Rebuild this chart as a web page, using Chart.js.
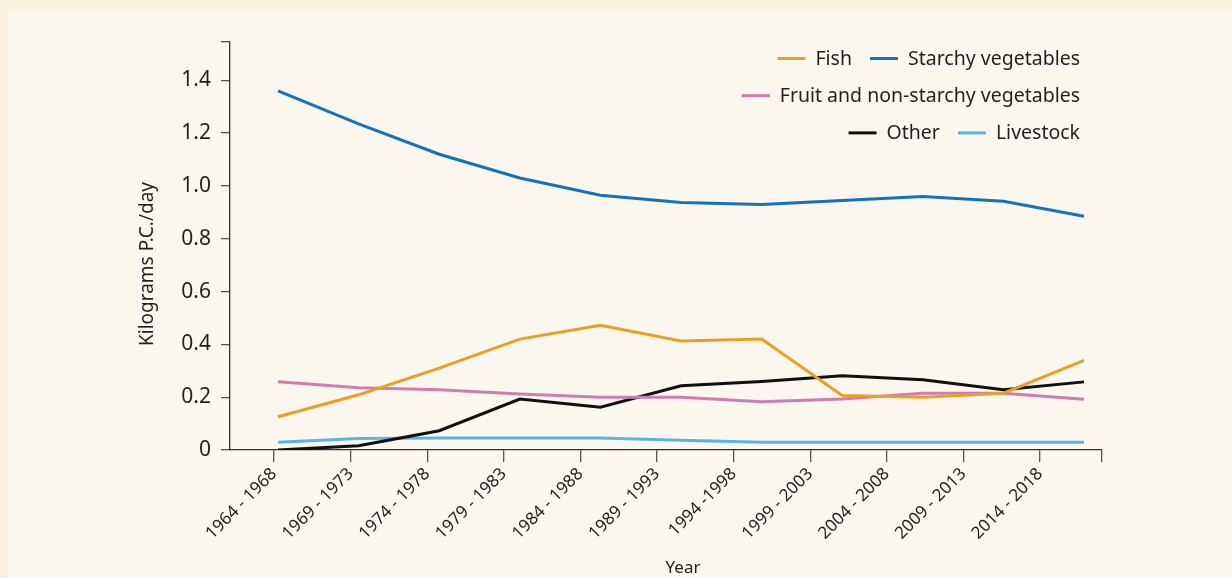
<!DOCTYPE html>
<html>
<head>
<meta charset="utf-8">
<script src="https://cdn.jsdelivr.net/npm/chart.js@4"></script>
<style>
    html, body { margin: 0; padding: 0; background: #f9efdd; }
    #wrap { position: relative; width: 1232px; height: 578px; }
</style>
</head>
<body>
<div id="wrap"><canvas id="foodChart"></canvas></div>
<script>
// Periods shown on the x axis
const periodLabels = [
    '1964 - 1968', '1969 - 1973', '1974 - 1978', '1979 - 1983',
    '1984 - 1988', '1989 - 1993', '1994 -1998', '1999 - 2003',
    '2004 - 2008', '2009 - 2013', '2014 - 2018'
];

// Kilograms per capita per day
const fish = [0.126, 0.209, 0.31, 0.42, 0.472, 0.413, 0.42, 0.206, 0.2, 0.215, 0.339];
const starchyVeg = [1.36, 1.235, 1.12, 1.03, 0.965, 0.937, 0.93, 0.945, 0.96, 0.942, 0.885];
const fruitVeg = [0.258, 0.236, 0.228, 0.212, 0.2, 0.2, 0.183, 0.193, 0.215, 0.215, 0.192];
const other = [0, 0.016, 0.073, 0.193, 0.162, 0.243, 0.259, 0.281, 0.266, 0.228, 0.258];
const livestock = [0.029, 0.044, 0.045, 0.045, 0.045, 0.037, 0.029, 0.029, 0.029, 0.029, 0.029];

const yTicks = [0, 0.2, 0.4, 0.6, 0.8, 1.0, 1.2, 1.4];

// Legend rows (dataset indices), right aligned like the original
const legendRows = [[0, 1], [2], [3, 4]];

const textColor = '#231f20';
const fontFamily = '"Noto Sans", sans-serif';

Chart.defaults.font.family = fontFamily;
Chart.defaults.color = textColor;

const toPoints = (values) => values.map((v, i) => ({ x: i, y: v }));

const makeSeries = (label, values, color) => ({
    label,
    data: toPoints(values),
    borderColor: color,
    backgroundColor: color,
    borderWidth: 3,
    pointRadius: 0,
    tension: 0,
    xAxisID: 'x',
    yAxisID: 'y'
});

// Cream panel behind the chart
const panelBackground = {
    id: 'panelBackground',
    beforeDraw(chart) {
        const ctx = chart.ctx;
        ctx.save();
        ctx.fillStyle = '#f9efdd';
        ctx.fillRect(0, 0, chart.width, chart.height);
        ctx.fillStyle = '#fbf7ee';
        ctx.fillRect(8, 9, chart.width - 8, chart.height - 9);
        ctx.restore();
    }
};

// Legend inside the plot and the two axis titles
const legendAndTitles = {
    id: 'legendAndTitles',
    afterDraw(chart) {
        const ctx = chart.ctx;
        const area = chart.chartArea;
        ctx.save();
        ctx.fillStyle = textColor;
        ctx.textBaseline = 'alphabetic';

        // legend
        ctx.font = '19.5px ' + fontFamily;
        const right = area.right - 22;
        legendRows.forEach((row, r) => {
            const baseline = area.top + 23 + r * 37.2;
            const items = row.map(i => chart.data.datasets[i]);
            const widths = items.map(ds => 28 + 10 + ctx.measureText(ds.label).width);
            let x = right - widths.reduce((a, b) => a + b, 0) - 18 * (items.length - 1);
            items.forEach((ds, k) => {
                ctx.strokeStyle = ds.borderColor;
                ctx.lineWidth = 3;
                ctx.beginPath();
                ctx.moveTo(x, baseline - 6.5);
                ctx.lineTo(x + 28, baseline - 6.5);
                ctx.stroke();
                ctx.textAlign = 'left';
                ctx.fillText(ds.label, x + 38, baseline);
                x += widths[k] + 18;
            });
        });

        // x title
        ctx.font = '17px ' + fontFamily;
        ctx.textAlign = 'center';
        ctx.fillText('Year', (area.left + area.right) / 2 + 17, chart.height - 5.5);

        // y title
        ctx.font = '19px ' + fontFamily;
        ctx.translate(area.left - 77, (area.top + area.bottom) / 2 + 18);
        ctx.rotate(-Math.PI / 2);
        ctx.fillText('Kilograms P.C./day', 0, 0);
        ctx.restore();
    }
};

const ctx = document.getElementById('foodChart').getContext('2d');
const foodChart = new Chart(ctx, {
    type: 'line',
    data: {
        datasets: [
            makeSeries('Fish', fish, '#e9a027'),
            makeSeries('Starchy vegetables', starchyVeg, '#1571bf'),
            makeSeries('Fruit and non-starchy vegetables', fruitVeg, '#d17bae'),
            makeSeries('Other', other, '#111111'),
            makeSeries('Livestock', livestock, '#5bb4e6')
        ]
    },
    options: {
        responsive: true,
        maintainAspectRatio: false,
        animation: false,
        layout: {
            padding: { left: 0, top: 42, right: 130, bottom: 0 }
        },
        plugins: {
            legend: { display: false },
            tooltip: { enabled: false }
        },
        scales: {
            // data positions
            x: {
                type: 'linear',
                display: false,
                min: -0.596,
                max: 10.223
            },
            // tick marks and period labels
            periods: {
                type: 'linear',
                position: 'bottom',
                min: -0.574,
                max: 10.809,
                afterBuildTicks: (scale) => {
                    scale.ticks = periodLabels.map((_, i) => ({ value: i })).concat({ value: scale.max });
                },
                afterFit: (scale) => { scale.height = 128; },
                border: { color: '#333', width: 1.3 },
                grid: {
                    drawOnChartArea: false,
                    drawTicks: true,
                    tickLength: 12,
                    color: '#555',
                    lineWidth: 1.3
                },
                ticks: {
                    autoSkip: false,
                    minRotation: 45,
                    maxRotation: 45,
                    padding: 2,
                    font: { size: 17 },
                    color: textColor,
                    callback: (v) => periodLabels[v] ?? ''
                }
            },
            y: {
                min: 0,
                max: 1.545,
                afterBuildTicks: (scale) => {
                    scale.ticks = yTicks.map(v => ({ value: v })).concat({ value: scale.max });
                },
                afterFit: (scale) => { scale.width = 230; },
                border: { color: '#333', width: 1.3 },
                grid: {
                    drawOnChartArea: false,
                    drawTicks: true,
                    tickLength: 9,
                    color: '#555',
                    lineWidth: 1.3
                },
                ticks: {
                    padding: 10,
                    font: { size: 21 },
                    color: textColor,
                    callback: (v) => yTicks.includes(v) ? (v === 0 ? '0' : v.toFixed(1)) : ''
                }
            }
        }
    },
    plugins: [panelBackground, legendAndTitles]
});
</script>
</body>
</html>
